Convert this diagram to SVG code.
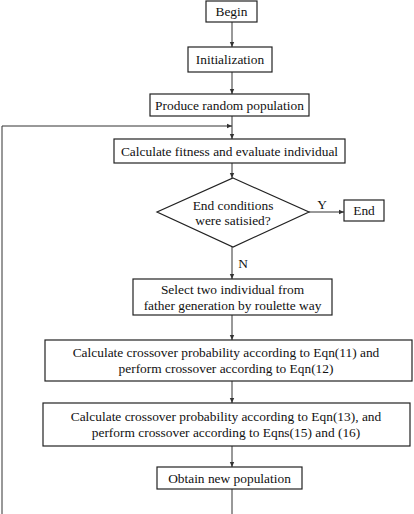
<svg xmlns="http://www.w3.org/2000/svg" width="414" height="514" viewBox="0 0 414 514">
<style>
.b{fill:#fff;stroke:#222;stroke-width:1.2}
.t{font-family:"Liberation Serif","Times New Roman",serif;font-size:13.4px;fill:#111;text-anchor:middle}
.c{fill:none;stroke:#333;stroke-width:1}
</style>
<defs>
<marker id="a" markerWidth="6" markerHeight="6" refX="5" refY="3" orient="auto" markerUnits="userSpaceOnUse">
<path d="M0,0.8 L5,3 L0,5.2 Z" fill="#333"/>
</marker>
</defs>
<rect width="414" height="514" fill="#fff"/>
<g id="connectors">
<line class="c" x1="232" y1="22" x2="232" y2="47" marker-end="url(#a)"/>
<line class="c" x1="232" y1="72" x2="232" y2="94" marker-end="url(#a)"/>
<line class="c" x1="232" y1="116" x2="232" y2="139" marker-end="url(#a)"/>
<polyline class="c" points="2,514 2,126 232,126" marker-end="url(#a)"/>
<line class="c" x1="232" y1="163" x2="232" y2="178" marker-end="url(#a)"/>
<line class="c" x1="309" y1="212" x2="344" y2="212" marker-end="url(#a)"/>
<line class="c" x1="232" y1="247" x2="232" y2="279" marker-end="url(#a)"/>
<line class="c" x1="232" y1="315" x2="232" y2="340" marker-end="url(#a)"/>
<line class="c" x1="232" y1="381" x2="232" y2="403" marker-end="url(#a)"/>
<line class="c" x1="232" y1="446" x2="232" y2="467" marker-end="url(#a)"/>
<line class="c" x1="232" y1="489" x2="232" y2="514"/>
<text class="t" x="322" y="209">Y</text>
<text class="t" x="243" y="268">N</text>
</g>
<g id="begin"><rect class="b" x="206" y="1" width="51" height="21"/><text class="t" x="231.5" y="16">Begin</text></g>
<g id="init"><rect class="b" x="188" y="47" width="84" height="25"/><text class="t" x="230" y="64">Initialization</text></g>
<g id="produce"><rect class="b" x="150" y="94" width="159" height="22"/><text class="t" x="229.5" y="110">Produce random population</text></g>
<g id="fitness"><rect class="b" x="114" y="139" width="231" height="24"/><text class="t" x="229.5" y="156">Calculate fitness and evaluate individual</text></g>
<g id="cond"><polygon class="b" points="233,178 309,212 233,247 157,212"/><text class="t" x="233" y="210">End conditions</text><text class="t" x="233" y="225">were satisied?</text></g>
<g id="end"><rect class="b" x="344" y="200" width="40" height="21"/><text class="t" x="364" y="215">End</text></g>
<g id="select"><rect class="b" x="133" y="279" width="199" height="36"/><text class="t" x="232.5" y="294">Select two individual from</text><text class="t" x="232.5" y="310">father generation by roulette way</text></g>
<g id="cross1"><rect class="b" x="45" y="340" width="367" height="41"/><text class="t" x="226" y="357">Calculate crossover probability according to Eqn(11) and</text><text class="t" x="226" y="373">perform crossover according to Eqn(12)</text></g>
<g id="cross2"><rect class="b" x="43" y="403" width="367" height="43"/><text class="t" x="226" y="421">Calculate crossover probability according to Eqn(13), and</text><text class="t" x="226" y="437">perform crossover according to Eqns(15) and (16)</text></g>
<g id="obtain"><rect class="b" x="157" y="467" width="145" height="22"/><text class="t" x="229.5" y="483">Obtain new population</text></g>
</svg>
